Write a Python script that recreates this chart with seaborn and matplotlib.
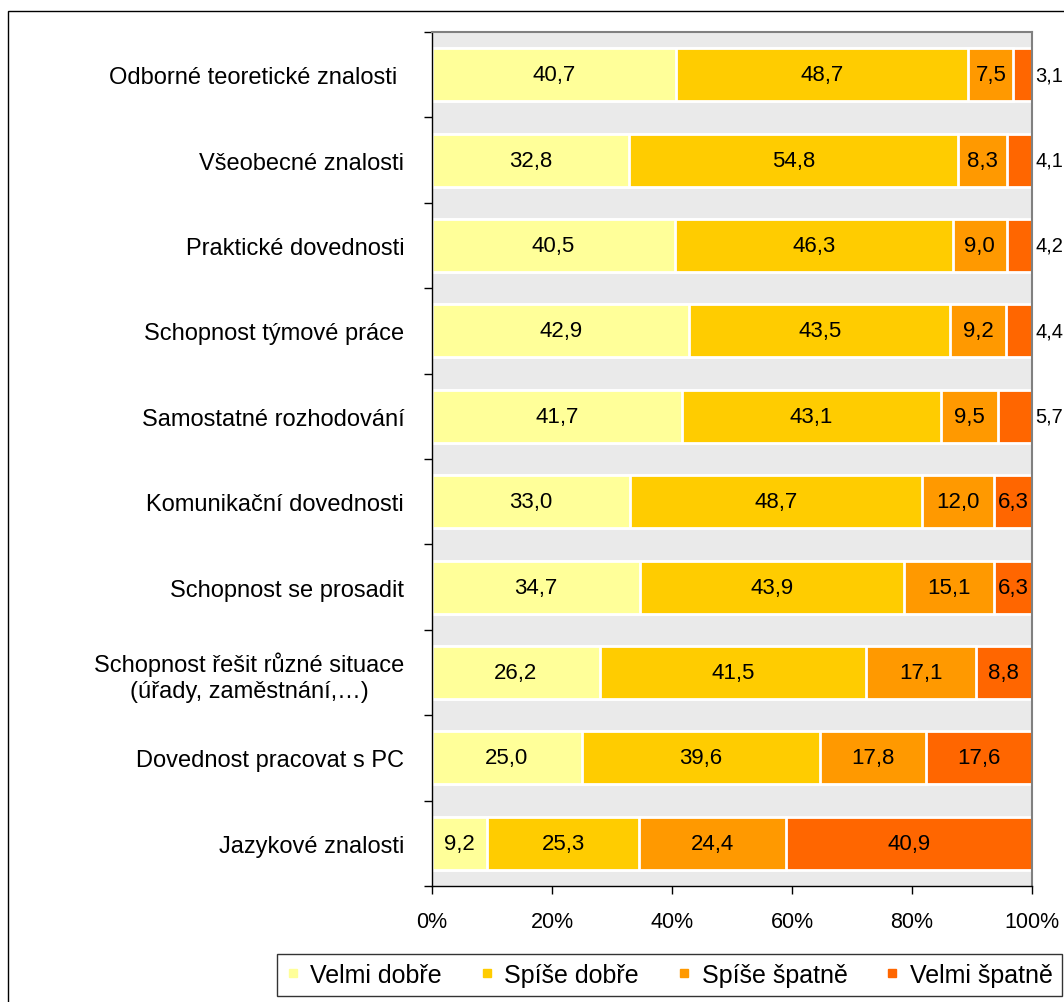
import matplotlib
matplotlib.use("Agg")
import matplotlib.pyplot as plt
import seaborn as sns
import pandas as pd
import numpy as np
from matplotlib.lines import Line2D
from matplotlib.patches import Rectangle
from matplotlib.ticker import FixedLocator, PercentFormatter

categories = [
    "Odborné teoretické znalosti ",
    "Všeobecné znalosti",
    "Praktické dovednosti",
    "Schopnost týmové práce",
    "Samostatné rozhodování",
    "Komunikační dovednosti",
    "Schopnost se prosadit",
    "Schopnost řešit různé situace\n(úřady, zaměstnání,…)",
    "Dovednost pracovat s PC",
    "Jazykové znalosti",
]
series_names = ["Velmi dobře", "Spíše dobře", "Spíše špatně", "Velmi špatně"]
velmi_dobre = [40.7, 32.8, 40.5, 42.9, 41.7, 33.0, 34.7, 26.2, 25.0, 9.2]
spise_dobre = [48.7, 54.8, 46.3, 43.5, 43.1, 48.7, 43.9, 41.5, 39.6, 25.3]
spise_spatne = [7.5, 8.3, 9.0, 9.2, 9.5, 12.0, 15.1, 17.1, 17.8, 24.4]
velmi_spatne = [3.1, 4.1, 4.2, 4.4, 5.7, 6.3, 6.3, 8.8, 17.6, 40.9]
colors = ["#FFFF99", "#FFCC00", "#FF9900", "#FF6600"]

FONT = ["Liberation Sans", "DejaVu Sans"]
sns.set_theme(style="white")
plt.rcParams["font.family"] = FONT
plt.rcParams["text.color"] = "black"
plt.rcParams["xtick.color"] = "black"
plt.rcParams["ytick.color"] = "black"

CAT_FS = 17
VAL_FS = 16
OUT_FS = 14.5
TICK_FS = 15.5
LEG_FS = 18

vals = np.array([velmi_dobre, spise_dobre, spise_spatne, velmi_spatne])  # 4 x 10
totals = vals.sum(axis=0)
pct = vals / totals * 100
cum = np.cumsum(pct, axis=0)

fig = plt.figure(figsize=(10.64, 10.03), dpi=100)
ax = fig.add_axes([432/1064, 1-887/1003, 600/1064, 854/1003])
ax.set_facecolor("#EAEAEA")

# draw stacked bars from the largest cumulative to the smallest
for i in range(3, -1, -1):
    df = pd.DataFrame({"cat": categories, "val": cum[i]})
    sns.barplot(data=df, x="val", y="cat", orient="h", color=colors[i],
                saturation=1, width=0.62, edgecolor="white", linewidth=2,
                ax=ax, order=categories)

ax.set_xlim(0, 100)
ax.set_ylim(len(categories) - 0.5, -0.5)
ax.set_xlabel("")
ax.set_ylabel("")

# value labels
for j in range(len(categories)):
    for i in range(4):
        v = vals[i, j]
        txt = f"{v:.1f}".replace(".", ",")
        if v < 6:
            ax.text(100.5, j, txt, ha="left", va="center", fontsize=OUT_FS,
                    color="black", clip_on=False)
        else:
            center = cum[i, j] - pct[i, j] / 2
            ax.text(center, j, txt, ha="center", va="center", fontsize=VAL_FS,
                    color="black")

# axes styling
ax.xaxis.set_major_locator(FixedLocator([0, 20, 40, 60, 80, 100]))
ax.xaxis.set_major_formatter(PercentFormatter(decimals=0))
ax.tick_params(axis="x", which="major", direction="out", length=6, width=1,
               color="black", labelcolor="black", labelsize=TICK_FS, pad=12,
               bottom=True)
ax.tick_params(axis="y", which="major", length=0, labelsize=CAT_FS, pad=20,
               labelcolor="black")
ax.set_yticks(np.arange(len(categories) + 1) - 0.5, minor=True)
ax.tick_params(axis="y", which="minor", direction="out", length=6, width=1,
               color="black", left=True)
for lab in ax.get_yticklabels():
    lab.set_multialignment("center")
for s in ["left", "bottom"]:
    ax.spines[s].set_color("black")
    ax.spines[s].set_linewidth(1)
for s in ["top", "right"]:
    ax.spines[s].set_color("#808080")
    ax.spines[s].set_linewidth(1.5)

# legend
handles = [Line2D([0], [0], marker="s", linestyle="none", markersize=6,
                  markerfacecolor=c, markeredgecolor=c) for c in colors]
leg = fig.legend(handles, series_names, loc="center", ncol=4,
                 bbox_to_anchor=(669/1064, 1-976/1003), frameon=True,
                 fontsize=LEG_FS, handlelength=0.6, handletextpad=0.4,
                 columnspacing=1.5, fancybox=False, borderpad=0.35)
leg.get_frame().set_edgecolor("black")
leg.get_frame().set_linewidth(1)

# outer chart frame
fig.patches.append(Rectangle((8/1064, -0.05), 1.1, 1.05 - 12/1003,
                             transform=fig.transFigure, fill=False,
                             edgecolor="black", linewidth=1))

fig.savefig("out.png", dpi=100)
